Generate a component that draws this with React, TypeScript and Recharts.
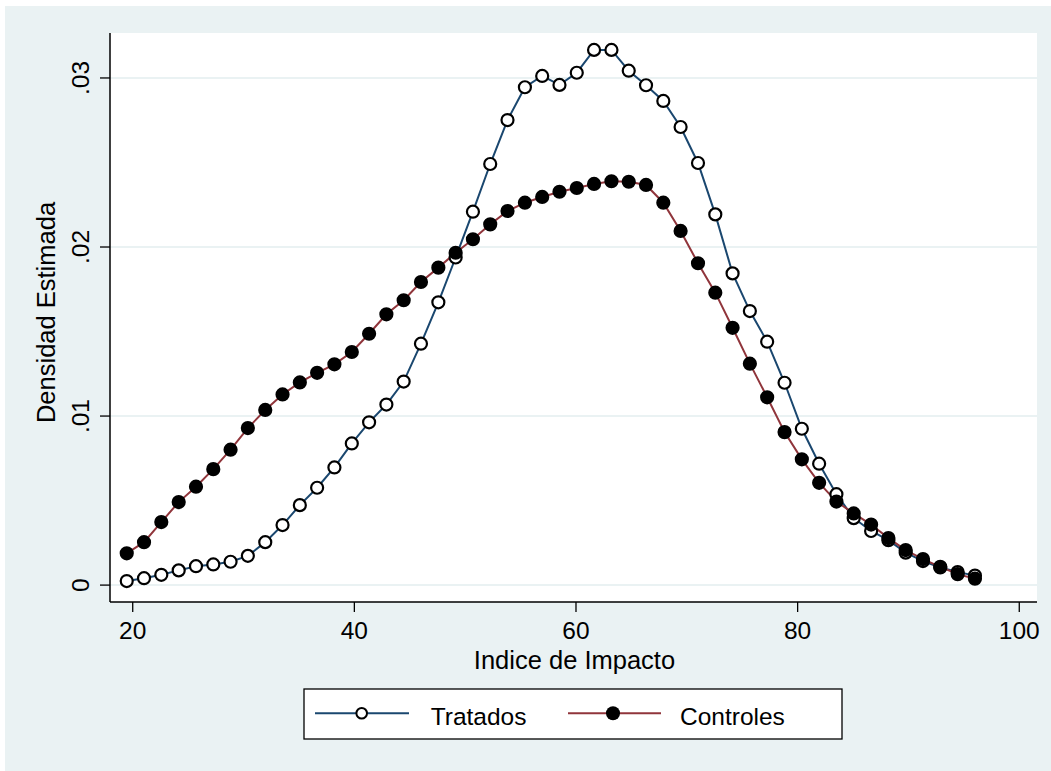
import React from 'react';
import { LineChart, Line, XAxis, YAxis, CartesianGrid } from 'recharts';

// Grid of the density estimate (Indice de Impacto)
const indice = [
  19.46, 21.02, 22.58, 24.15, 25.71, 27.27, 28.83, 30.39, 31.96, 33.52,
  35.08, 36.64, 38.2, 39.77, 41.33, 42.89, 44.45, 46.01, 47.58, 49.14,
  50.7, 52.26, 53.82, 55.39, 56.95, 58.51, 60.07, 61.63, 63.2, 64.76,
  66.32, 67.88, 69.44, 71.01, 72.57, 74.13, 75.69, 77.25, 78.82, 80.38,
  81.94, 83.5, 85.06, 86.63, 88.19, 89.75, 91.31, 92.87, 94.44, 96.0,
];

const tratados = [
  0.00024, 0.00041, 0.00061, 0.00087, 0.00112, 0.00122, 0.00138, 0.00173, 0.00254, 0.00355,
  0.00473, 0.00576, 0.00696, 0.00838, 0.00963, 0.01068, 0.01204, 0.01428, 0.01673, 0.01938,
  0.02209, 0.02491, 0.02751, 0.02945, 0.03012, 0.02959, 0.03031, 0.03166, 0.03166, 0.03043,
  0.02957, 0.02864, 0.0271, 0.02497, 0.02193, 0.01844, 0.01621, 0.0144, 0.01197, 0.00925,
  0.00718, 0.00538, 0.00396, 0.0032, 0.00266, 0.00192, 0.00142, 0.00104, 0.00077, 0.00056,
];

const controles = [
  0.00188, 0.00254, 0.00373, 0.00491, 0.00582, 0.00686, 0.00801, 0.00929, 0.01036, 0.01128,
  0.01199, 0.01256, 0.01306, 0.01379, 0.01487, 0.01602, 0.01685, 0.01793, 0.01878, 0.01966,
  0.02046, 0.02134, 0.02213, 0.02262, 0.02296, 0.02327, 0.02349, 0.02373, 0.02389, 0.02386,
  0.02367, 0.02262, 0.02095, 0.01904, 0.0173, 0.01522, 0.0131, 0.01111, 0.00905, 0.00744,
  0.00605, 0.00494, 0.00424, 0.00358, 0.00278, 0.00207, 0.00154, 0.00108, 0.00065, 0.00038,
];

const xTicks = [20, 40, 60, 80, 100];
const yTicks = [0, 0.01, 0.02, 0.03];
const yTickLabels = ['0', '.01', '.02', '.03'];

const seriesNames = ['Tratados', 'Controles'];

const data = indice.map((x, i) => ({ x, tratados: tratados[i], controles: controles[i] }));

const FONT = '"Liberation Sans", Arial, Helvetica, sans-serif';
const BG = '#eaf2f3';
const NAVY = '#1a476f';
const MAROON = '#90353b';

const YTick = (props: any) => {
  const { x, y, payload } = props;
  let idx = 0;
  let best = Infinity;
  yTicks.forEach((t, i) => {
    const d = Math.abs(t - payload.value);
    if (d < best) { best = d; idx = i; }
  });
  return (
    <text
      x={x}
      y={y}
      transform={`rotate(-90, ${x}, ${y})`}
      textAnchor="middle"
      fontSize={24.5}
      fontFamily={FONT}
      fill="#000"
    >
      {yTickLabels[idx]}
    </text>
  );
};

const XTitle = (props: any) => {
  const vb = props.viewBox || { x: 110, y: 602, width: 927, height: 80 };
  return (
    <text
      x={vb.x + vb.width / 2 + 1}
      y={vb.y + 67}
      textAnchor="middle"
      fontSize={25.5}
      fontFamily={FONT}
      fill="#000"
    >
      Indice de Impacto
    </text>
  );
};

const YTitle = (props: any) => {
  const vb = props.viewBox || { x: 10, y: 33, width: 100, height: 569 };
  const cx = vb.x + 45;
  const cy = vb.y + vb.height / 2 - 5;
  return (
    <text
      x={cx}
      y={cy}
      transform={`rotate(-90, ${cx}, ${cy})`}
      textAnchor="middle"
      fontSize={25.5}
      fontFamily={FONT}
      fill="#000"
    >
      Densidad Estimada
    </text>
  );
};

const LegendBox = () => (
  <svg
    width={540}
    height={52}
    style={{ position: 'absolute', left: 303, top: 688 }}
  >
    <rect x={1} y={1} width={538} height={50} fill="#fff" stroke="#000" strokeWidth={1.3} />
    <line x1={12} y1={25.3} x2={106} y2={25.3} stroke={NAVY} strokeWidth={2} />
    <circle cx={58.7} cy={25.3} r={5.3} fill="#fff" stroke="#000" strokeWidth={2} />
    <text x={127.7} y={37} fontSize={24.5} fontFamily={FONT} fill="#000">{seriesNames[0]}</text>
    <line x1={265} y1={25.3} x2={358} y2={25.3} stroke={MAROON} strokeWidth={2} />
    <circle cx={310} cy={25.3} r={7} fill="#000" />
    <text x={377} y={37} fontSize={24.5} fontFamily={FONT} fill="#000">{seriesNames[1]}</text>
  </svg>
);

export default function App() {
  return (
    <div style={{ position: 'absolute', left: 0, top: 0, width: 1051, height: 771, background: '#fff' }}>
      <div style={{ position: 'absolute', left: 5, top: 6, width: 1046, height: 765, background: BG }} />
      <div style={{ position: 'absolute', left: 0, top: 0 }}>
        <LineChart
          width={1051}
          height={771}
          data={data}
          margin={{ top: 33, right: 14, bottom: 89, left: 10 }}
        >
          <CartesianGrid
            horizontal={true}
            vertical={false}
            fill="#fff"
            stroke={BG}
            strokeWidth={2}
            horizontalValues={yTicks}
          />
          <XAxis
            dataKey="x"
            type="number"
            domain={[17.95, 101.6]}
            ticks={xTicks}
            allowDataOverflow
            height={80}
            tickSize={10}
            tickMargin={10}
            axisLine={{ stroke: '#000', strokeWidth: 1.5 }}
            tickLine={{ stroke: '#000', strokeWidth: 1.3 }}
            tick={{ fontSize: 24.5, fill: '#000', fontFamily: FONT }}
            interval={0}
            label={<XTitle />}
          />
          <YAxis
            type="number"
            domain={[-0.001, 0.03266]}
            ticks={yTicks}
            allowDataOverflow
            width={100}
            tickSize={10}
            tickMargin={11}
            axisLine={{ stroke: '#000', strokeWidth: 1.5 }}
            tickLine={{ stroke: '#000', strokeWidth: 1.3 }}
            tick={<YTick />}
            interval={0}
            label={<YTitle />}
          />
          <Line
            type="linear"
            dataKey="tratados"
            name={seriesNames[0]}
            stroke={NAVY}
            strokeWidth={2}
            dot={{ r: 6, fill: '#fff', stroke: '#000', strokeWidth: 2.2 }}
            activeDot={false}
            isAnimationActive={false}
          />
          <Line
            type="linear"
            dataKey="controles"
            name={seriesNames[1]}
            stroke={MAROON}
            strokeWidth={2}
            dot={{ r: 6, fill: '#000', stroke: '#000', strokeWidth: 2.2 }}
            activeDot={false}
            isAnimationActive={false}
          />
        </LineChart>
      </div>
      <LegendBox />
    </div>
  );
}
